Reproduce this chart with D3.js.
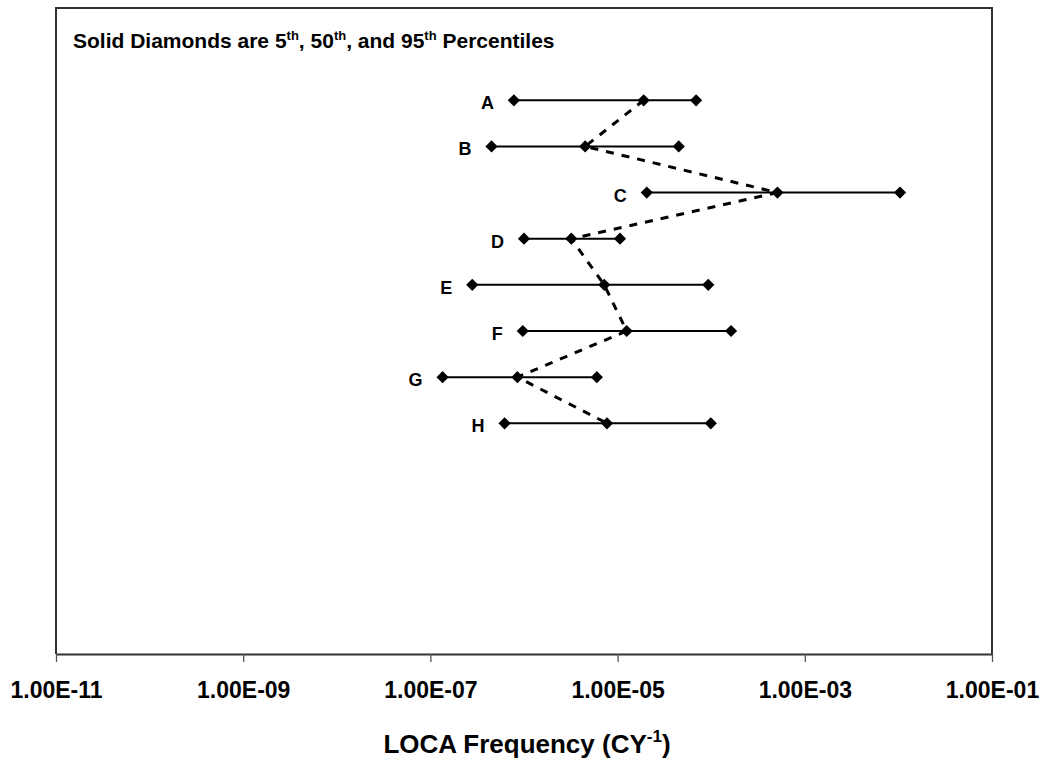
<!DOCTYPE html>
<html><head><meta charset="utf-8">
<script src="https://cdn.jsdelivr.net/npm/d3@7"></script>
<style>
html,body{margin:0;padding:0;background:#fff;}
text{font-family:"Liberation Sans",Arial,Helvetica,sans-serif;font-weight:bold;fill:#000;}
</style></head>
<body>
<svg id="chart" width="1046" height="759"></svg>
<script>
const categories = ["A","B","C","D","E","F","G","H"];
const rowPos = [12,11,10,9,8,7,6,5];
const p5  = [7.8e-7, 4.5e-7, 2.05e-5, 1.0e-6, 2.8e-7, 9.7e-7, 1.35e-7, 6.2e-7];
const p50 = [1.9e-5, 4.5e-6, 5.1e-4, 3.2e-6, 7.2e-6, 1.25e-5, 8.5e-7, 7.7e-6];
const p95 = [6.9e-5, 4.5e-5, 1.04e-2, 1.06e-5, 9.3e-5, 1.63e-4, 6.0e-6, 9.9e-5];
const tickValues = [1e-11, 1e-9, 1e-7, 1e-5, 1e-3, 1e-1];
const tickLabels = ["1.00E-11","1.00E-09","1.00E-07","1.00E-05","1.00E-03","1.00E-01"];

const L = 56, R = 992, T = 8, B = 654;
const svg = d3.select("#chart");
const x = d3.scaleLog().domain([1e-11, 1e-1]).range([L, R]);
const y = d3.scaleLinear().domain([0, 14]).range([B, T]);

const data = categories.map((c, i) => ({c, y: rowPos[i], lo: p5[i], mid: p50[i], hi: p95[i]}));

// plot frame
svg.append("path")
  .attr("d", `M${L},${B} L${L},${T} L${R},${T} L${R},${B}`)
  .attr("fill", "none").attr("stroke", "#333").attr("stroke-width", 2);

// x axis
const ax = svg.append("g").attr("transform", `translate(0,${B})`)
  .call(d3.axisBottom(x).tickValues(tickValues).tickSize(8).tickSizeOuter(0).tickPadding(0)
        .tickFormat((d, i) => tickLabels[i]));
ax.select(".domain").attr("stroke", "#333").attr("stroke-width", 2);
ax.selectAll(".tick line").attr("stroke", "#555").attr("stroke-width", 1.3);
ax.selectAll(".tick text").attr("y", 44).attr("dy", null)
  .style("font-size", "23px").style("font-family", "'Liberation Sans',Arial,sans-serif").style("font-weight", "bold");

// axis title
const at = svg.append("text").attr("x", 527).attr("y", 753).attr("text-anchor", "middle")
  .style("font-size", "26px");
at.append("tspan").text("LOCA Frequency (CY");
at.append("tspan").text("-1").attr("dy", -11).style("font-size", "17px");
at.append("tspan").text(")").attr("dy", 11);

// note
const nt = svg.append("text").attr("x", 73).attr("y", 48).style("font-size", "21px");
nt.append("tspan").text("Solid Diamonds are 5");
nt.append("tspan").text("th").attr("dy", -8).style("font-size", "13px");
nt.append("tspan").text(", 50").attr("dy", 8);
nt.append("tspan").text("th").attr("dy", -8).style("font-size", "13px");
nt.append("tspan").text(", and 95").attr("dy", 8);
nt.append("tspan").text("th").attr("dy", -8).style("font-size", "13px");
nt.append("tspan").text(" Percentiles").attr("dy", 8);

// dashed median connector
svg.append("path").datum(data)
  .attr("d", d3.line().x(d => x(d.mid)).y(d => y(d.y)))
  .attr("fill", "none").attr("stroke", "#000").attr("stroke-width", 3)
  .attr("stroke-dasharray", "8,8");

// ranges
svg.selectAll("line.rng").data(data).join("line").attr("class", "rng")
  .attr("x1", d => x(d.lo)).attr("x2", d => x(d.hi))
  .attr("y1", d => y(d.y)).attr("y2", d => y(d.y))
  .attr("stroke", "#000").attr("stroke-width", 2);

// diamonds
const pts = [];
data.forEach(d => { pts.push({v: d.lo, y: d.y}, {v: d.mid, y: d.y}, {v: d.hi, y: d.y}); });
const sym = d3.symbol().type(d3.symbolDiamond2).size(95);
svg.selectAll("path.pt").data(pts).join("path").attr("class", "pt")
  .attr("d", sym).attr("transform", d => `translate(${x(d.v)},${y(d.y)})`)
  .attr("fill", "#000");

// labels
svg.selectAll("text.lab").data(data).join("text").attr("class", "lab")
  .attr("x", d => x(d.lo) - 20).attr("y", d => y(d.y) + 9)
  .attr("text-anchor", "end").style("font-size", "18px")
  .text(d => d.c);
</script>
</body></html>
